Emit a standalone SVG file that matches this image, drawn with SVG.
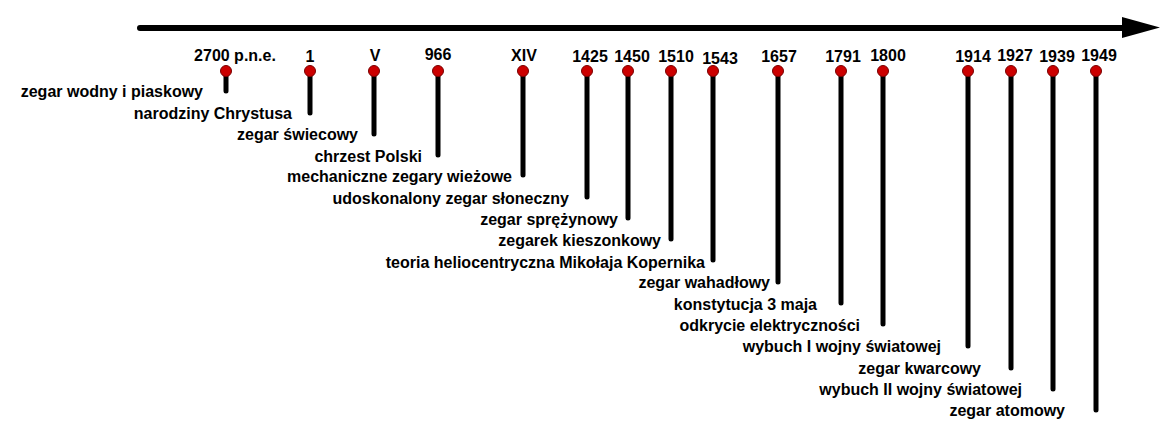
<svg xmlns="http://www.w3.org/2000/svg" width="1169" height="444" viewBox="0 0 1169 444">
<defs>
<style>
text{font-family:"Liberation Sans",Arial,sans-serif;font-weight:bold;font-size:16px;fill:#000}
.y{text-anchor:middle}
.d{text-anchor:end}
.stem{stroke:#000;stroke-width:5;stroke-linecap:round}
.dot{fill:#cc0000;stroke:#7a0000;stroke-width:1}
</style>
</defs>
<g id="connectors">
<line x1="140" y1="28" x2="1124" y2="28" stroke="#000" stroke-width="6" stroke-linecap="round"/>
<polygon points="1122,17 1160,27.5 1122,38" fill="#000"/>
</g>
<g id="n1"><line class="stem" x1="226" y1="71" x2="226" y2="91"/><circle class="dot" cx="226" cy="71" r="5.5"/><text class="y" x="235" y="61">2700 p.n.e.</text><text class="d" x="203" y="97">zegar wodny i piaskowy</text></g>
<g id="n2"><line class="stem" x1="310" y1="71" x2="310" y2="113"/><circle class="dot" cx="310" cy="71" r="5.5"/><text class="y" x="310" y="62">1</text><text class="d" x="292" y="119">narodziny Chrystusa</text></g>
<g id="n3"><line class="stem" x1="374" y1="71" x2="374" y2="134"/><circle class="dot" cx="374" cy="71" r="5.5"/><text class="y" x="375" y="61">V</text><text class="d" x="358" y="140">zegar świecowy</text></g>
<g id="n4"><line class="stem" x1="438" y1="71" x2="438" y2="155"/><circle class="dot" cx="438" cy="71" r="5.5"/><text class="y" x="438" y="60">966</text><text class="d" x="422" y="162">chrzest Polski</text></g>
<g id="n5"><line class="stem" x1="523" y1="71" x2="523" y2="175"/><circle class="dot" cx="523" cy="71" r="5.5"/><text class="y" x="524" y="61">XIV</text><text class="d" x="512" y="182">mechaniczne zegary wieżowe</text></g>
<g id="n6"><line class="stem" x1="587" y1="71" x2="587" y2="197"/><circle class="dot" cx="587" cy="71" r="5.5"/><text class="y" x="590" y="62">1425</text><text class="d" x="569" y="204">udoskonalony zegar słoneczny</text></g>
<g id="n7"><line class="stem" x1="628" y1="71" x2="628" y2="218"/><circle class="dot" cx="628" cy="71" r="5.5"/><text class="y" x="632" y="62">1450</text><text class="d" x="618" y="225">zegar sprężynowy</text></g>
<g id="n8"><line class="stem" x1="671" y1="71" x2="671" y2="239"/><circle class="dot" cx="671" cy="71" r="5.5"/><text class="y" x="676" y="62">1510</text><text class="d" x="661" y="246">zegarek kieszonkowy</text></g>
<g id="n9"><line class="stem" x1="713" y1="71" x2="713" y2="260"/><circle class="dot" cx="713" cy="71" r="5.5"/><text class="y" x="720" y="64">1543</text><text class="d" x="705" y="268">teoria heliocentryczna Mikołaja Kopernika</text></g>
<g id="n10"><line class="stem" x1="778" y1="71" x2="778" y2="282"/><circle class="dot" cx="778" cy="71" r="5.5"/><text class="y" x="779" y="62">1657</text><text class="d" x="770" y="288">zegar wahadłowy</text></g>
<g id="n11"><line class="stem" x1="841" y1="71" x2="841" y2="303"/><circle class="dot" cx="841" cy="71" r="5.5"/><text class="y" x="843" y="62">1791</text><text class="d" x="817" y="310">konstytucja 3 maja</text></g>
<g id="n12"><line class="stem" x1="883" y1="71" x2="883" y2="324"/><circle class="dot" cx="883" cy="71" r="5.5"/><text class="y" x="888" y="61">1800</text><text class="d" x="860" y="331">odkrycie elektryczności</text></g>
<g id="n13"><line class="stem" x1="968" y1="71" x2="968" y2="346"/><circle class="dot" cx="968" cy="71" r="5.5"/><text class="y" x="973" y="62">1914</text><text class="d" x="941" y="352">wybuch I wojny światowej</text></g>
<g id="n14"><line class="stem" x1="1011" y1="71" x2="1011" y2="368"/><circle class="dot" cx="1011" cy="71" r="5.5"/><text class="y" x="1015" y="61">1927</text><text class="d" x="981" y="374">zegar kwarcowy</text></g>
<g id="n15"><line class="stem" x1="1053" y1="71" x2="1053" y2="389"/><circle class="dot" cx="1053" cy="71" r="5.5"/><text class="y" x="1057" y="62">1939</text><text class="d" x="1022" y="395">wybuch II wojny światowej</text></g>
<g id="n16"><line class="stem" x1="1096" y1="71" x2="1096" y2="410"/><circle class="dot" cx="1096" cy="71" r="5.5"/><text class="y" x="1099" y="61">1949</text><text class="d" x="1065" y="416">zegar atomowy</text></g>
</svg>
